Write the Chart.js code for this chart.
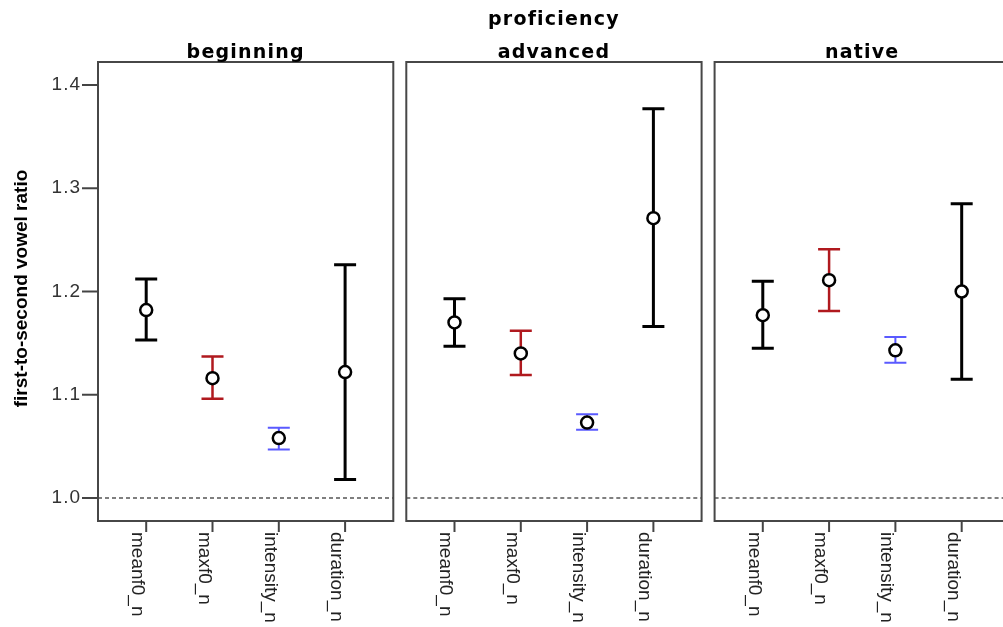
<!DOCTYPE html>
<html>
<head>
<meta charset="utf-8">
<script src="https://cdn.jsdelivr.net/npm/chart.js@4"></script>
<style>
  html, body { margin: 0; background: #fff; overflow: hidden; }
  canvas { display: block; }
</style>
</head>
<body>
<canvas id="c" width="1003" height="627"></canvas>
<script>
// --- DATA ---
const groups = ['beginning', 'advanced', 'native'];
const measures = ['meanf0_n', 'maxf0_n', 'intensity_n', 'duration_n'];
const yTicks = [1.0, 1.1, 1.2, 1.3, 1.4];

const beginningMean = [1.182, 1.116, 1.058, 1.122];
const beginningLow  = [1.153, 1.096, 1.047, 1.018];
const beginningHigh = [1.212, 1.137, 1.068, 1.226];

const advancedMean = [1.170, 1.140, 1.073, 1.271];
const advancedLow  = [1.147, 1.119, 1.066, 1.166];
const advancedHigh = [1.193, 1.162, 1.081, 1.377];

const nativeMean = [1.177, 1.211, 1.143, 1.200];
const nativeLow  = [1.145, 1.181, 1.131, 1.115];
const nativeHigh = [1.210, 1.241, 1.156, 1.285];

const refLine = 1.0;

// --- STYLE / LAYOUT ---
const barColors = ['#000000', '#b0191e', '#5a5aff', '#000000'];
const barWidths = [3, 2.5, 2, 3];
const PANEL_STEP = 4.65;   // x units between panels
const PAD = 0.727;         // x units between box edge and first/last category
const UNIT_PX = 66.3;

const means = [beginningMean, advancedMean, nativeMean];
const lows = [beginningLow, advancedLow, nativeLow];
const highs = [beginningHigh, advancedHigh, nativeHigh];

// one dataset per measure, one point per proficiency group
const datasets = measures.map((m, i) => ({
    label: m,
    data: groups.map((g, p) => ({
        x: p * PANEL_STEP + i,
        y: means[p][i],
        low: lows[p][i],
        high: highs[p][i]
    })),
    pointRadius: 6,
    pointHoverRadius: 6,
    pointBorderWidth: 2.5,
    pointBackgroundColor: '#ffffff',
    pointBorderColor: '#000000',
    showLine: false
}));

// --- PANELS, AXES AND ERROR BARS ---
const panelPlugin = {
    id: 'panels',
    beforeDatasetsDraw(chart) {
        const ctx = chart.ctx;
        const xs = chart.scales.x;
        const ys = chart.scales.y;
        const top = chart.chartArea.top;
        const bottom = chart.chartArea.bottom;
        ctx.save();

        groups.forEach((g, p) => {
            const left = xs.getPixelForValue(p * PANEL_STEP - PAD);
            const right = xs.getPixelForValue(p * PANEL_STEP + measures.length - 1 + PAD);

            // dashed reference line
            const yRef = ys.getPixelForValue(refLine);
            ctx.setLineDash([4, 3]);
            ctx.strokeStyle = '#555';
            ctx.lineWidth = 1.5;
            ctx.beginPath();
            ctx.moveTo(left, yRef);
            ctx.lineTo(right, yRef);
            ctx.stroke();
            ctx.setLineDash([]);

            // panel box
            ctx.strokeStyle = '#474747';
            ctx.lineWidth = 2;
            ctx.strokeRect(left, top, right - left, bottom - top);

            // panel title
            ctx.fillStyle = '#000';
            ctx.font = 'bold 19px "DejaVu Sans"';
            ctx.letterSpacing = '1.2px';
            ctx.textAlign = 'center';
            ctx.textBaseline = 'alphabetic';
            ctx.fillText(g, (left + right) / 2, top - 4);
            ctx.letterSpacing = '0px';

            // x ticks + rotated labels
            measures.forEach((m, i) => {
                const x = xs.getPixelForValue(p * PANEL_STEP + i);
                ctx.strokeStyle = '#444';
                ctx.lineWidth = 2;
                ctx.beginPath();
                ctx.moveTo(x, bottom);
                ctx.lineTo(x, bottom + 11);
                ctx.stroke();

                ctx.save();
                ctx.translate(x - 14, bottom + 11);
                ctx.rotate(Math.PI / 2);
                ctx.fillStyle = '#222';
                ctx.font = '19px "Liberation Sans"';
                ctx.textAlign = 'left';
                ctx.textBaseline = 'alphabetic';
                ctx.fillText(m, 0, 0);
                ctx.restore();
            });
        });

        // overall title
        const p0 = xs.getPixelForValue(-PAD);
        const p2 = xs.getPixelForValue(2 * PANEL_STEP + measures.length - 1 + PAD);
        ctx.fillStyle = '#000';
        ctx.font = 'bold 19px "DejaVu Sans"';
        ctx.letterSpacing = '1.2px';
        ctx.textAlign = 'center';
        ctx.fillText('proficiency', (p0 + p2) / 2, 25);
        ctx.letterSpacing = '0px';

        // y ticks on the first panel
        yTicks.forEach(v => {
            const y = ys.getPixelForValue(v);
            ctx.strokeStyle = '#444';
            ctx.lineWidth = 2;
            ctx.beginPath();
            ctx.moveTo(p0 - 16, y);
            ctx.lineTo(p0, y);
            ctx.stroke();
            ctx.fillStyle = '#333';
            ctx.font = '19px "Liberation Sans"';
            ctx.letterSpacing = '1px';
            ctx.textAlign = 'right';
            ctx.textBaseline = 'middle';
            ctx.fillText(v.toFixed(1), p0 - 17, y);
            ctx.letterSpacing = '0px';
        });

        // y axis title
        ctx.save();
        ctx.translate(27, (top + bottom) / 2 - 3);
        ctx.rotate(-Math.PI / 2);
        ctx.fillStyle = '#000';
        ctx.font = 'bold 19px "Liberation Sans"';
        ctx.textAlign = 'center';
        ctx.textBaseline = 'alphabetic';
        ctx.fillText('first-to-second vowel ratio', 0, 0);
        ctx.restore();

        // error bars (under the circles)
        chart.data.datasets.forEach((ds, di) => {
            ctx.strokeStyle = barColors[di];
            ctx.lineWidth = barWidths[di];
            ds.data.forEach(pt => {
                const x = xs.getPixelForValue(pt.x);
                const yl = ys.getPixelForValue(pt.low);
                const yh = ys.getPixelForValue(pt.high);
                ctx.beginPath();
                ctx.moveTo(x, yl);
                ctx.lineTo(x, yh);
                ctx.moveTo(x - 11, yl);
                ctx.lineTo(x + 11, yl);
                ctx.moveTo(x - 11, yh);
                ctx.lineTo(x + 11, yh);
                ctx.stroke();
            });
        });

        ctx.restore();
    }
};

new Chart(document.getElementById('c'), {
    type: 'scatter',
    data: { datasets: datasets },
    options: {
        responsive: false,
        animation: false,
        devicePixelRatio: 1,
        layout: { autoPadding: false, padding: { left: 98, right: 0, top: 62, bottom: 106 } },
        plugins: { legend: { display: false }, tooltip: { enabled: false } },
        scales: {
            x: {
                type: 'linear',
                display: false,
                min: -PAD,
                max: -PAD + (1003 - 98) / UNIT_PX
            },
            y: {
                type: 'linear',
                display: false,
                min: 0.9777,
                max: 1.4223
            }
        }
    },
    plugins: [panelPlugin]
});
</script>
</body>
</html>
